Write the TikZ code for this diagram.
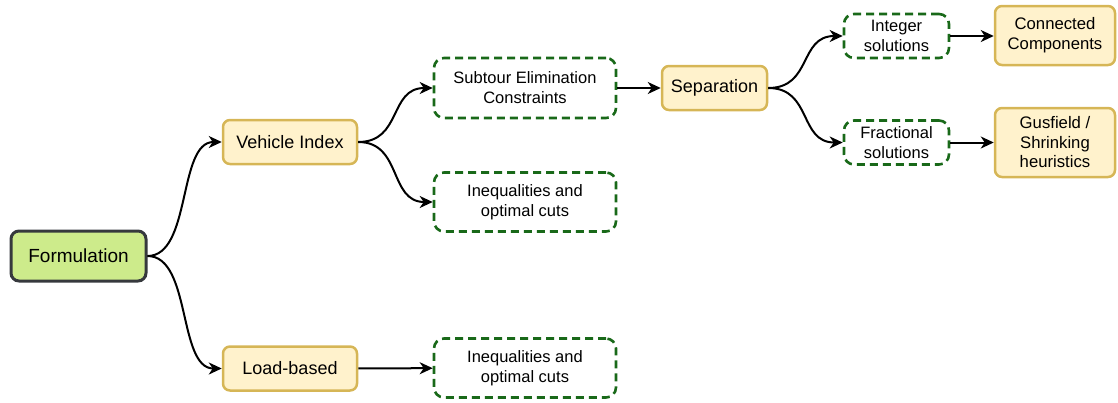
\documentclass[tikz,border=0pt]{standalone}
\usepackage{fontspec}
\setmainfont{Liberation Sans}
\usetikzlibrary{arrows.meta}
\definecolor{formfill}{HTML}{CDEB8B}
\definecolor{formline}{HTML}{36393D}
\definecolor{mainfill}{HTML}{FFF2CC}
\definecolor{mainline}{HTML}{D6B656}
\definecolor{cutline}{HTML}{196919}

\begin{document}
\begin{tikzpicture}
[x=1pt,y=-1pt,
>={Stealth[length=13pt,width=12pt,inset=4pt]},
link/.style={->,line width=2pt},
rootbox/.style={draw=formline,fill=formfill,line width=3pt,rounded corners=8pt,
  inner sep=0pt,minimum width=135pt,minimum height=50pt,font=\fontsize{19}{22}\selectfont},
mainbox/.style={draw=mainline,fill=mainfill,line width=2.5pt,rounded corners=7pt,
  inner sep=0pt,minimum height=44pt,align=center,font=\fontsize{18}{21}\selectfont},
cutbox/.style={draw=cutline,line width=2.6pt,dash pattern=on 8pt off 5pt,rounded corners=10pt,
  inner sep=0pt,minimum height=44pt,align=center,font=\fontsize{16.5}{20}\selectfont}]
  \useasboundingbox (0,0) rectangle (1118,402);
  % left part
  \node[rootbox] (form) at (78.5,256) {Formulation};
  \node[mainbox,minimum width=134pt] (veh) at (290,142) {Vehicle Index};
  \node[mainbox,minimum width=134pt] (load) at (290,368.5) {Load-based};
  \node[cutbox,minimum width=182pt,minimum height=60pt] (sec) at (525,88) {Subtour Elimination\\Constraints};
  \node[cutbox,minimum width=182pt,minimum height=59pt] (ineqa) at (525,202) {Inequalities and\\optimal cuts};
  \node[cutbox,minimum width=182pt,minimum height=59pt] (ineqb) at (525,368) {Inequalities and\\optimal cuts};
  % separation part
  \node[mainbox,minimum width=105pt] (sep) at (714.5,88) {Separation};
  \node[cutbox,minimum width=105pt] (intsol) at (896.5,36) {Integer\\solutions};
  \node[cutbox,minimum width=105pt] (fracsol) at (896.5,142.5) {Fractional\\solutions};
  \node[mainbox,minimum width=120pt,minimum height=59pt,font=\fontsize{16.7}{20}\selectfont] (conn) at (1055,35.5) {Connected\\Components};
  \node[mainbox,minimum width=120pt,minimum height=69pt,font=\fontsize{16.7}{19.5}\selectfont] (gus) at (1055,142.5) {Gusfield /\\Shrinking\\heuristics};
  % links
  \draw[link] (form.east) .. controls +(44,0) and +(-44,0) .. (veh.west);
  \draw[link] (form.east) .. controls +(44,0) and +(-44,0) .. (load.west);
  \draw[link] (veh.east) .. controls +(44,0) and +(-44,0) .. (sec.west);
  \draw[link] (veh.east) .. controls +(44,0) and +(-44,0) .. (ineqa.west);
  \draw[link] (load) -- (ineqb);
  \draw[link] (sec) -- (sep);
  \draw[link] (sep.east) .. controls +(44,0) and +(-44,0) .. (intsol.west);
  \draw[link] (sep.east) .. controls +(44,0) and +(-44,0) .. (fracsol.west);
  \draw[link] (intsol.east) -- (intsol.east -| conn.west);
  \draw[link] (fracsol.east) -- (fracsol.east -| gus.west);
\end{tikzpicture}
\end{document}
